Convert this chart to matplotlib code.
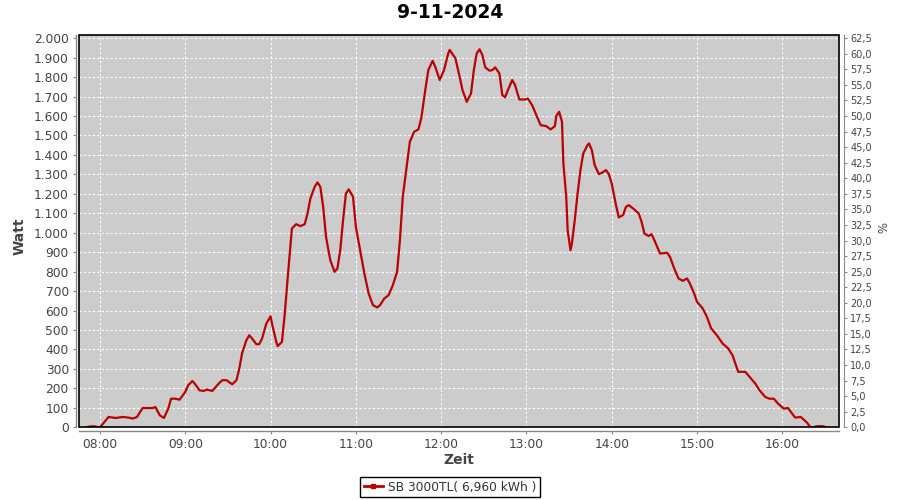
import matplotlib
matplotlib.use("Agg")
import matplotlib.pyplot as plt
import numpy as np
from matplotlib.ticker import FuncFormatter, FixedLocator
from matplotlib.patches import Rectangle
from matplotlib.lines import Line2D

title = "9-11-2024"
series_label = "SB 3000TL( 6,960 kWh )"

times = ["07:50","07:53","07:54","07:57","07:58","08:00","08:06","08:11","08:16","08:20",
         "08:23","08:26","08:30","08:37","08:39","08:42","08:45","08:48","08:50","08:53",
         "08:56","09:00","09:02","09:05","09:07","09:10","09:13","09:15","09:19","09:23",
         "09:26","09:29","09:33","09:36","09:38","09:40","09:43","09:45","09:47","09:50",
         "09:52","09:54","09:57","10:00","10:01","10:04","10:05","10:08","10:10","10:12",
         "10:15","10:18","10:21","10:24","10:26","10:28","10:31","10:33","10:35","10:37",
         "10:39","10:42","10:45","10:47","10:49","10:51","10:53","10:55","10:58","11:00",
         "11:03","11:06","11:09","11:12","11:15","11:17","11:20","11:23","11:26","11:29",
         "11:31","11:33","11:36","11:38","11:41","11:44","11:46","11:49","11:51","11:54",
         "11:56","11:59","12:02","12:05","12:06","12:10","12:13","12:15","12:18","12:21",
         "12:23","12:25","12:27","12:29","12:31","12:34","12:36","12:38","12:41","12:43",
         "12:45","12:47","12:50","12:52","12:55","12:59","13:01","13:04","13:07","13:10",
         "13:14","13:17","13:20","13:21","13:23","13:25","13:26","13:28","13:29","13:31",
         "13:32","13:34","13:36","13:38","13:40","13:43","13:44","13:46","13:48","13:51",
         "13:53","13:56","13:58","14:00","14:03","14:05","14:08","14:10","14:12","14:15",
         "14:19","14:21","14:23","14:26","14:28","14:30","14:34","14:39","14:41","14:44",
         "14:47","14:50","14:53","14:55","14:58","15:00","15:04","15:07","15:10","15:14",
         "15:18","15:22","15:25","15:29","15:34","15:37","15:41","15:44","15:48","15:51",
         "15:54","15:57","16:01","16:04","16:09","16:13","16:17","16:20","16:22","16:24",
         "16:26","16:29","16:31"]

watts = [0, 4, 5, 4, 0, 0, 53, 48, 53, 50,
         45, 53, 99, 99, 104, 62, 48, 96, 147, 147,
         142, 182, 216, 238, 221, 190, 187, 194, 187, 221,
         242, 242, 221, 242, 302, 382, 448, 473, 456, 427,
         427, 456, 533, 571, 533, 439, 417, 439, 585, 765,
         1022, 1044, 1034, 1044, 1099, 1176, 1236, 1259, 1236, 1133,
         979, 859, 799, 816, 910, 1065, 1202, 1223, 1185, 1030,
         910, 790, 688, 628, 616, 628, 662, 679, 730, 799,
         962, 1185, 1356, 1468, 1519, 1531, 1588, 1742, 1836, 1884,
         1850, 1785, 1836, 1922, 1940, 1897, 1802, 1734, 1673, 1716,
         1836, 1922, 1943, 1914, 1850, 1833, 1836, 1850, 1819, 1708,
         1696, 1734, 1785, 1759, 1685, 1685, 1690, 1656, 1605, 1553,
         1548, 1531, 1548, 1600, 1622, 1571, 1356, 1185, 1013, 910,
         945, 1065, 1202, 1322, 1408, 1451, 1459, 1425, 1348, 1301,
         1308, 1322, 1301, 1253, 1142, 1079, 1091, 1133, 1142, 1125,
         1099, 1056, 996, 983, 993, 962, 893, 897, 876, 816,
         765, 753, 765, 739, 688, 645, 611, 567, 508, 473,
         431, 405, 370, 285, 285, 259, 225, 190, 156, 147,
         147, 122, 96, 99, 50, 53, 27, 0, 0, 5,
         6, 5, 0]

hour_ticks = [8, 9, 10, 11, 12, 13, 14, 15, 16]
watt_ticks = list(range(0, 2001, 100))
pct_ticks = [i * 2.5 for i in range(26)]


def to_hours(s):
    h, m = s.split(":")
    return int(h) + int(m) / 60.0


x = [to_hours(t) for t in times]

plt.rcParams["font.family"] = ["DejaVu Sans"]
label_col = "#444444"
axis_col = "#888888"

fig = plt.figure(figsize=(9, 5), dpi=100)
ax = fig.add_axes([0.0881, 0.1454, 0.8444, 0.7852])
ax.set_facecolor("#cccccc")

ax.plot(x, watts, color="#bb0000", lw=1.6, zorder=2, solid_joinstyle="round")

ax.set_xlim(7.757, 16.668)
ax.set_ylim(0, 2018)

ax.xaxis.set_major_locator(FixedLocator(hour_ticks))
ax.xaxis.set_major_formatter(FuncFormatter(lambda v, p: f"{int(round(v)):02d}:00"))
ax.yaxis.set_major_locator(FixedLocator(watt_ticks))
ax.yaxis.set_major_formatter(FuncFormatter(lambda v, p: f"{int(round(v)):,}".replace(",", ".")))

ax.grid(True, color="white", linestyle=(0, (2, 2)), lw=0.8, zorder=1)
ax.set_axisbelow(True)

for s in ["top", "right"]:
    ax.spines[s].set_visible(False)
ax.spines["left"].set_position(("outward", 2.5))
ax.spines["bottom"].set_position(("outward", 3))
for s in ["left", "bottom"]:
    ax.spines[s].set_color(axis_col)
    ax.spines[s].set_linewidth(1.0)

ax.tick_params(axis="y", length=2.5, width=0.8, color=axis_col, labelcolor=label_col,
               labelsize=8.8, pad=2.5)
ax.tick_params(axis="x", length=2.5, width=0.8, color=axis_col, labelcolor=label_col,
               labelsize=8.8, pad=2)

ax.add_patch(Rectangle((0, 0), 1, 1, transform=ax.transAxes, fill=False,
                       edgecolor="black", lw=1.2, zorder=5, clip_on=False))

ax2 = ax.twinx()
ax2.set_ylim(0, 2018 * 62.5 / 2000)
ax2.yaxis.set_major_locator(FixedLocator(pct_ticks))
ax2.yaxis.set_major_formatter(FuncFormatter(lambda v, p: f"{v:.1f}".replace(".", ",")))
for s in ["left", "top", "bottom"]:
    ax2.spines[s].set_visible(False)
ax2.spines["right"].set_position(("outward", 3.5))
ax2.spines["right"].set_color(axis_col)
ax2.tick_params(axis="y", length=2.5, width=0.8, color=axis_col, labelcolor=label_col,
                labelsize=7, pad=2)

fig.text(0.5, 1 - 13 / 500, title, ha="center", va="center", fontsize=13.5,
         fontweight="bold", color="black")
fig.text(20 / 900, 1 - 236 / 500, "Watt", rotation=90, ha="center", va="center",
         fontsize=10, fontweight="bold", color=label_col)
fig.text(459.3 / 900, 1 - 460 / 500, "Zeit", ha="center", va="center",
         fontsize=10, fontweight="bold", color=label_col)
fig.text(880 / 900, 1 - 228 / 500, "%", rotation=-90, ha="center", va="center",
         fontsize=8.5, color=label_col)

handle = Line2D([], [], color="#bb0000", lw=2, marker="s", markersize=2.5)
leg = fig.legend(handles=[handle], labels=[series_label], loc="center",
                 bbox_to_anchor=(0.5, 1 - 487 / 500), frameon=True, fancybox=False,
                 edgecolor="black", framealpha=1, fontsize=8.8, handlelength=1.6,
                 borderpad=0.3, handletextpad=0.4, borderaxespad=0)
leg.get_frame().set_linewidth(1.0)
for t in leg.get_texts():
    t.set_color("#333333")

fig.savefig("out.png", dpi=100)
